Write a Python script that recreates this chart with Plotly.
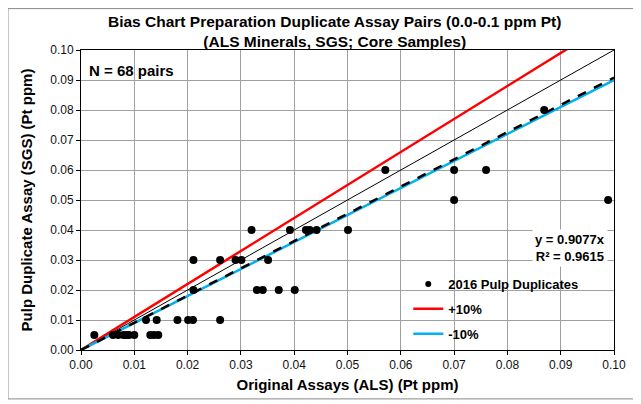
import plotly.graph_objects as go

# Duplicate pairs (x = original ALS, y = SGS pulp duplicate)
x_orig = [0.0025, 0.006, 0.007, 0.008, 0.0085, 0.009, 0.010, 0.013, 0.0137, 0.0145,
          0.0122, 0.0142, 0.0181, 0.0201, 0.0210, 0.0261,
          0.0211, 0.0330, 0.0341, 0.0371, 0.0401,
          0.0211, 0.0261, 0.0290, 0.0301, 0.0351,
          0.0320, 0.0392, 0.0422, 0.0429, 0.0442, 0.0501,
          0.0700, 0.0989,
          0.0571, 0.0700, 0.0760,
          0.0869]
y_dup = [0.005] * 10 + [0.01] * 6 + [0.02] * 5 + [0.03] * 5 + [0.04] * 6 + [0.05] * 2 + [0.06] * 3 + [0.08]

line_x = [0.0, 0.1]
trend_slope = 0.9077
r_squared = 0.9615

FONT = "Liberation Sans, Arial, sans-serif"

fig = go.Figure()

# legend entry with a smaller dot (added first so it's first in the legend)
fig.add_trace(go.Scatter(x=[None], y=[None], mode="markers", name="<b>2016 Pulp Duplicates</b>",
                         marker=dict(color="black", size=6), legendgroup="a"))
# 1:1, +10%, -10% reference lines
fig.add_trace(go.Scatter(x=line_x, y=line_x, mode="lines", line=dict(color="black", width=1),
                         showlegend=False, hoverinfo="skip"))
fig.add_trace(go.Scatter(x=line_x, y=[v * 1.1 for v in line_x], mode="lines", name="<b>+10%</b>",
                         line=dict(color="#ff0000", width=2.5), legendgroup="b"))
fig.add_trace(go.Scatter(x=line_x, y=[v * 0.9 for v in line_x], mode="lines", name="<b>-10%</b>",
                         line=dict(color="#00b0f0", width=2.5), legendgroup="c"))
# Trendline through origin
fig.add_trace(go.Scatter(x=line_x, y=[v * trend_slope for v in line_x], mode="lines",
                         line=dict(color="black", width=2.5, dash="dash"),
                         showlegend=False, hoverinfo="skip"))
# Data points
fig.add_trace(go.Scatter(x=x_orig, y=y_dup, mode="markers", marker=dict(color="black", size=8),
                         showlegend=False))

axis_common = dict(range=[0, 0.1], dtick=0.01, tickformat=".2f", showgrid=True,
                   gridcolor="#a0a0a0", gridwidth=1, zeroline=False, showline=True,
                   linecolor="black", linewidth=1, mirror=True, ticks="outside",
                   ticklen=4, tickcolor="black", automargin=False,
                   tickfont=dict(family=FONT, size=12, color="#111"))

fig.update_xaxes(**axis_common, title=dict(text="<b>Original Assays (ALS) (Pt ppm)</b>",
                                           font=dict(family=FONT, size=15, color="black"), standoff=8))
fig.update_yaxes(**axis_common, title=dict(text="<b>Pulp Duplicate Assay (SGS) (Pt ppm)</b>",
                                           font=dict(family=FONT, size=15, color="black"), standoff=13))

# white area behind the legend
fig.add_shape(type="rect", xref="paper", yref="paper", x0=0.583, x1=1.0, y0=0.01, y1=0.283,
              fillcolor="white", line_width=0, layer="between")
# outer chart border
fig.add_shape(type="rect", xref="paper", yref="paper", x0=-0.137, x1=1.041, y0=-0.163, y1=1.138,
              line=dict(color="#888", width=1), fillcolor="rgba(0,0,0,0)")

fig.add_annotation(text="<b>N = 68 pairs</b>", xref="paper", yref="paper", x=0.012, y=0.93,
                   xanchor="left", yanchor="middle", showarrow=False,
                   font=dict(family=FONT, size=15, color="black"))
fig.add_annotation(text=f"<b>y = {trend_slope:.4f}x<br>R² = {r_squared:.4f}</b>",
                   xref="paper", yref="paper", x=0.989, y=0.34, xanchor="right", yanchor="middle",
                   align="right", showarrow=False, bgcolor="white", borderpad=2,
                   font=dict(family=FONT, size=13, color="black"))

# page body has an 8px margin, so the figure is a bit smaller than the window
fig.update_layout(
    width=633, height=396,
    margin=dict(l=73, r=27, t=42, b=54),
    paper_bgcolor="white", plot_bgcolor="white",
    title=dict(text="<b>Bias Chart Preparation Duplicate Assay Pairs (0.0-0.1 ppm Pt)<br>"
                    "(ALS Minerals, SGS; Core Samples)</b>",
               x=0.476, xref="paper", xanchor="center", y=0.952, yref="container", yanchor="middle",
               font=dict(family=FONT, size=15.5, color="black")),
    legend=dict(x=0.614, y=0.27, xanchor="left", yanchor="top", bgcolor="rgba(0,0,0,0)",
                font=dict(family=FONT, size=13, color="black"), tracegroupgap=5,
                traceorder="grouped"),
)

fig.write_html("out.html")
